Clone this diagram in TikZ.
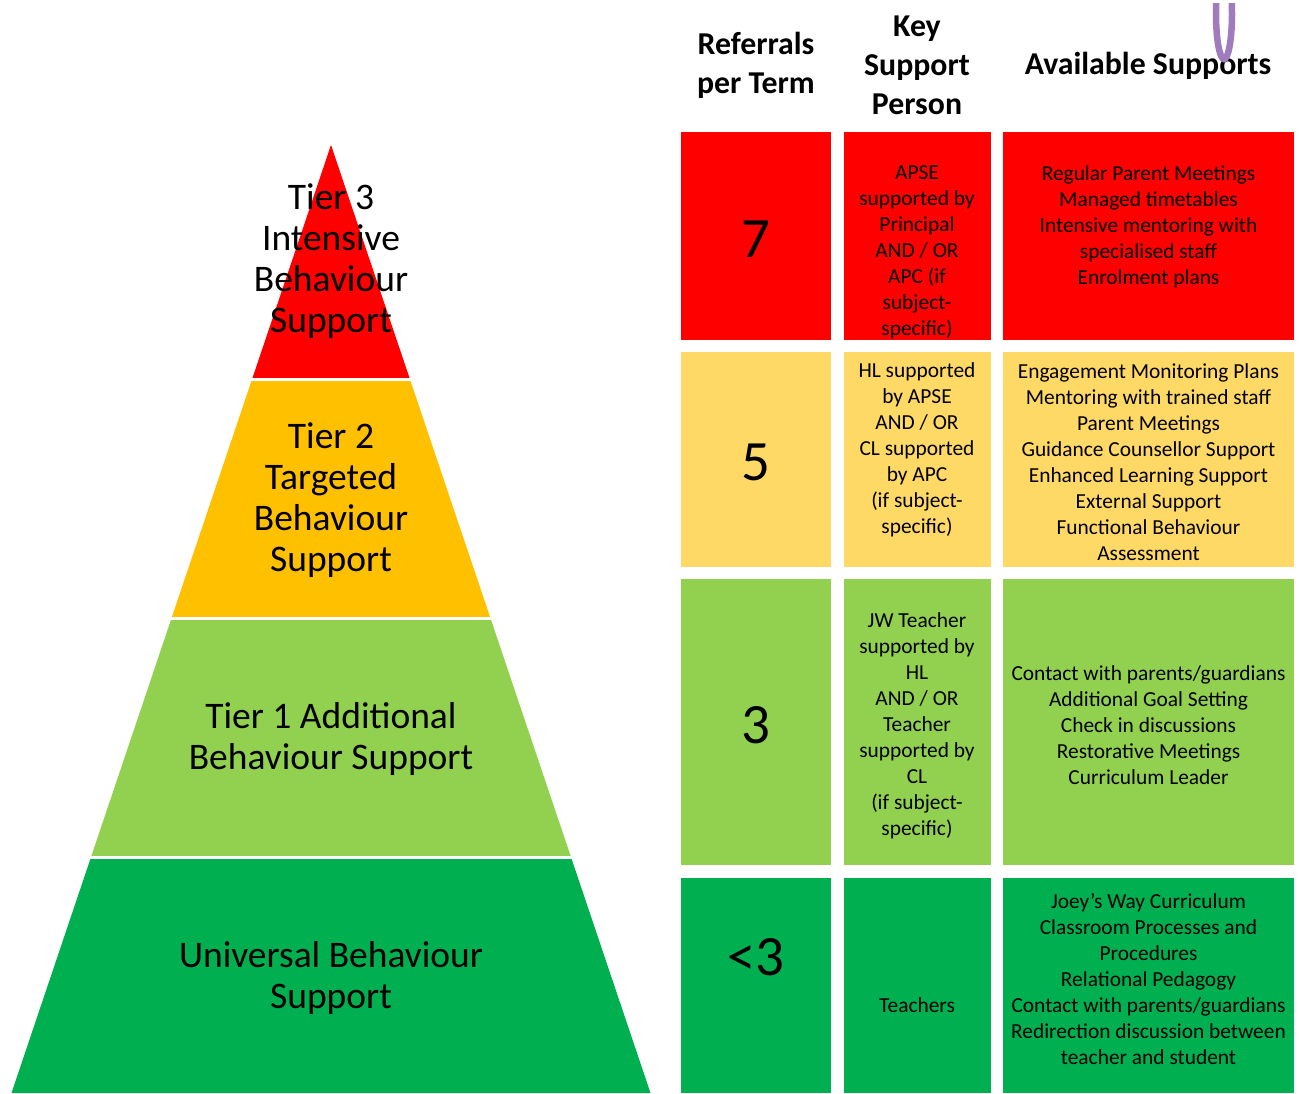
\documentclass[tikz,border=0pt]{standalone}
\usepackage{fontspec}
\setmainfont{Carlito}
\definecolor{tred}{RGB}{255,0,0}
\definecolor{tamber}{RGB}{255,192,0}
\definecolor{tlight}{RGB}{255,217,102}
\definecolor{tlgreen}{RGB}{146,208,80}
\definecolor{tdgreen}{RGB}{0,176,80}
\definecolor{tpurple}{RGB}{160,124,190}
\begin{document}
\begin{tikzpicture}[x=1pt,y=-1pt,
  pyrtext/.style={align=center,inner sep=0pt,font=\fontsize{37.5}{41}\selectfont},
  headtext/.style={align=center,inner sep=0pt,font=\fontsize{31.8}{39}\selectfont\bfseries},
  celltext/.style={align=center,inner sep=0pt,font=\fontsize{21.4}{26}\selectfont},
  numtext/.style={align=center,inner sep=0pt,font=\fontsize{57}{66}\selectfont}]
\useasboundingbox (0,0) rectangle (1299,1093);
\fill[white] (0,0) rectangle (1299,1093);

% pyramid
\begin{scope}
  \clip (331,145) -- (650.5,1093) -- (11.5,1093) -- cycle;
  \fill[tred] (0,140) rectangle (700,378);
  \fill[tamber] (0,381) rectangle (700,617);
  \fill[tlgreen] (0,620) rectangle (700,856);
  \fill[tdgreen] (0,859) rectangle (700,1094);
\end{scope}
\node[pyrtext] (t3) at (331,261.5) {Tier 3\\Intensive\\Behaviour\\Support};
\node[pyrtext] (t2) at (331,500.5) {Tier 2\\Targeted\\Behaviour\\Support};
\node[pyrtext] (t1) at (331,739) {Tier 1 Additional\\Behaviour Support};
\node[pyrtext] (t0) at (331,978) {Universal Behaviour\\Support};

% headers
\node[headtext] (h1) at (756,65.5) {Referrals\\per Term};
\node[headtext] (h2) at (917,65) {Key\\Support\\Person};
\node[headtext] (h3) at (1148,65.5) {Available Supports};

% purple loop
\begin{scope}
  \clip (1200,3) rectangle (1250,80);
  \draw[tpurple,line width=6.5pt] (1224,14) ellipse [x radius=8, y radius=45];
\end{scope}

% table cells
\fill[tred] (681,132) rectangle (831,340);
\fill[tred] (844,132) rectangle (991,340);
\fill[tred] (1003,132) rectangle (1294,340);
\fill[tlight] (681,352) rectangle (831,567);
\fill[tlight] (844,352) rectangle (991,567);
\fill[tlight] (1003,352) rectangle (1294,567);
\fill[tlgreen] (681,579) rectangle (831,865);
\fill[tlgreen] (844,579) rectangle (991,865);
\fill[tlgreen] (1003,579) rectangle (1294,865);
\fill[tdgreen] (681,878) rectangle (831,1093);
\fill[tdgreen] (844,878) rectangle (991,1093);
\fill[tdgreen] (1003,878) rectangle (1294,1093);

% row 1
\node[numtext] (n1) at (756,239) {7};
\node[celltext] (p1) at (917,252.5) {APSE\\supported by\\Principal\\AND / OR\\APC (if\\subject-\\specific)};
\node[celltext] (s1) at (1148.5,226.5) {Regular Parent Meetings\\Managed timetables\\Intensive mentoring with\\specialised staff\\Enrolment plans};
% row 2
\node[numtext] (n2) at (756,462) {5};
\node[celltext] (p2) at (917,449.5) {HL supported\\by APSE\\AND / OR\\CL supported\\by APC\\(if subject-\\specific)};
\node[celltext] (s2) at (1148.5,462.5) {Engagement Monitoring Plans\\Mentoring with trained staff\\Parent Meetings\\Guidance Counsellor Support\\Enhanced Learning Support\\External Support\\Functional Behaviour\\Assessment};
% row 3
\node[numtext] (n3) at (756,725) {3};
\node[celltext] (p3) at (917,725.5) {JW Teacher\\supported by\\HL\\AND / OR\\Teacher\\supported by\\CL\\(if subject-\\specific)};
\node[celltext] (s3) at (1148.5,725.5) {Contact with parents/guardians\\Additional Goal Setting\\Check in discussions\\Restorative Meetings\\Curriculum Leader};
% row 4
\node[numtext] (n4) at (756,957) {<3};
\node[celltext] (p4) at (917,1005.5) {Teachers};
\node[celltext] (s4) at (1148.5,979) {Joey’s Way Curriculum\\Classroom Processes and\\Procedures\\Relational Pedagogy\\Contact with parents/guardians\\Redirection discussion between\\teacher and student};
\end{tikzpicture}
\end{document}
